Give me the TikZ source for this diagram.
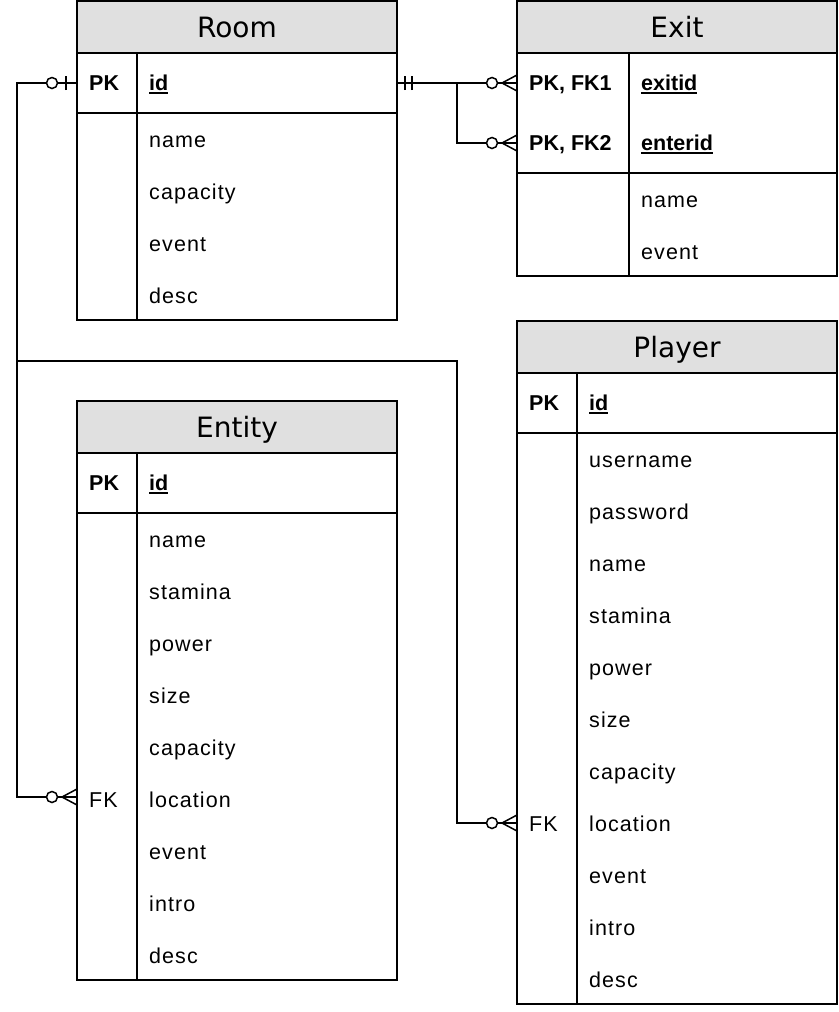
\documentclass[tikz,border=0pt]{standalone}
\usepackage{fontspec}
\setmainfont{Liberation Sans}[LetterSpace=5, BoldFeatures={LetterSpace=0}]
\newfontfamily\titlefont{DejaVu Sans}
\definecolor{headgray}{RGB}{224, 224, 224}
\newcommand{\keyul}[1]{\setbox0\hbox{#1}\rlap{\rule[-4pt]{\wd0}{1.6pt}}\box0}

\begin{document}
\begin{tikzpicture}[x=1pt, y=-1pt,
    tbl/.style={draw, line width=1.5pt},
    tabtitle/.style={font=\titlefont\fontsize{28}{32}\selectfont, anchor=base, inner sep=0pt},
    field/.style={font=\fontsize{21.5}{25}\selectfont, anchor=base west, inner sep=0pt},
    keyfield/.style={font=\fontsize{21.5}{25}\selectfont\bfseries, anchor=base west, inner sep=0pt},
    link/.style={line width=1.5pt},
    endmark/.style={line width=1.5pt, fill=white}]
    \useasboundingbox (0,0) rectangle (838,1012);

    % Room
    \fill[headgray] (77,1) rectangle (397,53);
    \draw[tbl] (77,1) rectangle (397,320);
    \draw[tbl] (77,53) -- (397,53) (77,113) -- (397,113) (137,53) -- (137,320);
    \node[tabtitle] (room-title) at (237,37) {Room};
    \node[keyfield] (room-pk) at (89,90) {PK};
    \node[keyfield] (room-id) at (149,90) {\keyul{id}};
    \node[field] (room-name) at (149,147) {name};
    \node[field] (room-capacity) at (149,199) {capacity};
    \node[field] (room-event) at (149,251) {event};
    \node[field] (room-desc) at (149,303) {desc};

    % Exit
    \fill[headgray] (517,1) rectangle (837,53);
    \draw[tbl] (517,1) rectangle (837,276);
    \draw[tbl] (517,53) -- (837,53) (517,173) -- (837,173) (629,53) -- (629,276);
    \node[tabtitle] (exit-title) at (677,37) {Exit};
    \node[keyfield] (exit-pk1) at (529,90) {PK, FK1};
    \node[keyfield] (exit-exitid) at (641,90) {\keyul{exitid}};
    \node[keyfield] (exit-pk2) at (529,150) {PK, FK2};
    \node[keyfield] (exit-enterid) at (641,150) {\keyul{enterid}};
    \node[field] (exit-name) at (641,207) {name};
    \node[field] (exit-event) at (641,259) {event};

    % Entity
    \fill[headgray] (77,401) rectangle (397,453);
    \draw[tbl] (77,401) rectangle (397,980);
    \draw[tbl] (77,453) -- (397,453) (77,513) -- (397,513) (137,453) -- (137,980);
    \node[tabtitle] (ent-title) at (237,437) {Entity};
    \node[keyfield] (ent-pk) at (89,490) {PK};
    \node[keyfield] (ent-id) at (149,490) {\keyul{id}};
    \node[field] (ent-name) at (149,547) {name};
    \node[field] (ent-stamina) at (149,599) {stamina};
    \node[field] (ent-power) at (149,651) {power};
    \node[field] (ent-size) at (149,703) {size};
    \node[field] (ent-capacity) at (149,755) {capacity};
    \node[field] (ent-fk) at (89,807) {FK};
    \node[field] (ent-location) at (149,807) {location};
    \node[field] (ent-event) at (149,859) {event};
    \node[field] (ent-intro) at (149,911) {intro};
    \node[field] (ent-desc) at (149,963) {desc};

    % Player
    \fill[headgray] (517,321) rectangle (837,373);
    \draw[tbl] (517,321) rectangle (837,1004);
    \draw[tbl] (517,373) -- (837,373) (517,433) -- (837,433) (577,373) -- (577,1004);
    \node[tabtitle] (ply-title) at (677,357) {Player};
    \node[keyfield] (ply-pk) at (529,410) {PK};
    \node[keyfield] (ply-id) at (589,410) {\keyul{id}};
    \node[field] (ply-username) at (589,467) {username};
    \node[field] (ply-password) at (589,519) {password};
    \node[field] (ply-name) at (589,571) {name};
    \node[field] (ply-stamina) at (589,623) {stamina};
    \node[field] (ply-power) at (589,675) {power};
    \node[field] (ply-size) at (589,727) {size};
    \node[field] (ply-capacity) at (589,779) {capacity};
    \node[field] (ply-fk) at (529,831) {FK};
    \node[field] (ply-location) at (589,831) {location};
    \node[field] (ply-event) at (589,883) {event};
    \node[field] (ply-intro) at (589,935) {intro};
    \node[field] (ply-desc) at (589,987) {desc};

    % Connector end points on the table edges
    \coordinate (room-w) at (77,83);
    \coordinate (room-e) at (397,83);
    \coordinate (exit-w1) at (517,83);
    \coordinate (exit-w2) at (517,143);
    \coordinate (ent-w) at (77,797);
    \coordinate (ply-w) at (517,823);
    \coordinate (bus) at (17,361);
    \coordinate (bend) at (457,361);
    \coordinate (split) at (457,83);

    % Room -> Entity / Player
    \draw[link] (room-w) -| (bus) |- (ent-w);
    \draw[link] (bus) -- (bend) |- (ply-w);
    % Room -> Exit
    \draw[link] (room-e) -- (exit-w1);
    \draw[link] (split) |- (exit-w2);

    % Zero or one at Room
    \draw[endmark] ([xshift=-25pt]room-w) circle (5.5);
    \draw[endmark] ([xshift=-11pt, yshift=-7pt]room-w) -- ([xshift=-11pt, yshift=7pt]room-w);
    % Mandatory one at Room
    \draw[endmark] ([xshift=8pt, yshift=-7pt]room-e) -- ([xshift=8pt, yshift=7pt]room-e);
    \draw[endmark] ([xshift=15pt, yshift=-7pt]room-e) -- ([xshift=15pt, yshift=7pt]room-e);

    % Zero or many
    \draw[endmark] ([xshift=-25pt]exit-w1) circle (5.5);
    \draw[link] ([yshift=-8pt]exit-w1) -- ([xshift=-15pt]exit-w1) -- ([yshift=8pt]exit-w1);
    \draw[endmark] ([xshift=-25pt]exit-w2) circle (5.5);
    \draw[link] ([yshift=-8pt]exit-w2) -- ([xshift=-15pt]exit-w2) -- ([yshift=8pt]exit-w2);
    \draw[endmark] ([xshift=-25pt]ent-w) circle (5.5);
    \draw[link] ([yshift=-8pt]ent-w) -- ([xshift=-15pt]ent-w) -- ([yshift=8pt]ent-w);
    \draw[endmark] ([xshift=-25pt]ply-w) circle (5.5);
    \draw[link] ([yshift=-8pt]ply-w) -- ([xshift=-15pt]ply-w) -- ([yshift=8pt]ply-w);
\end{tikzpicture}
\end{document}
